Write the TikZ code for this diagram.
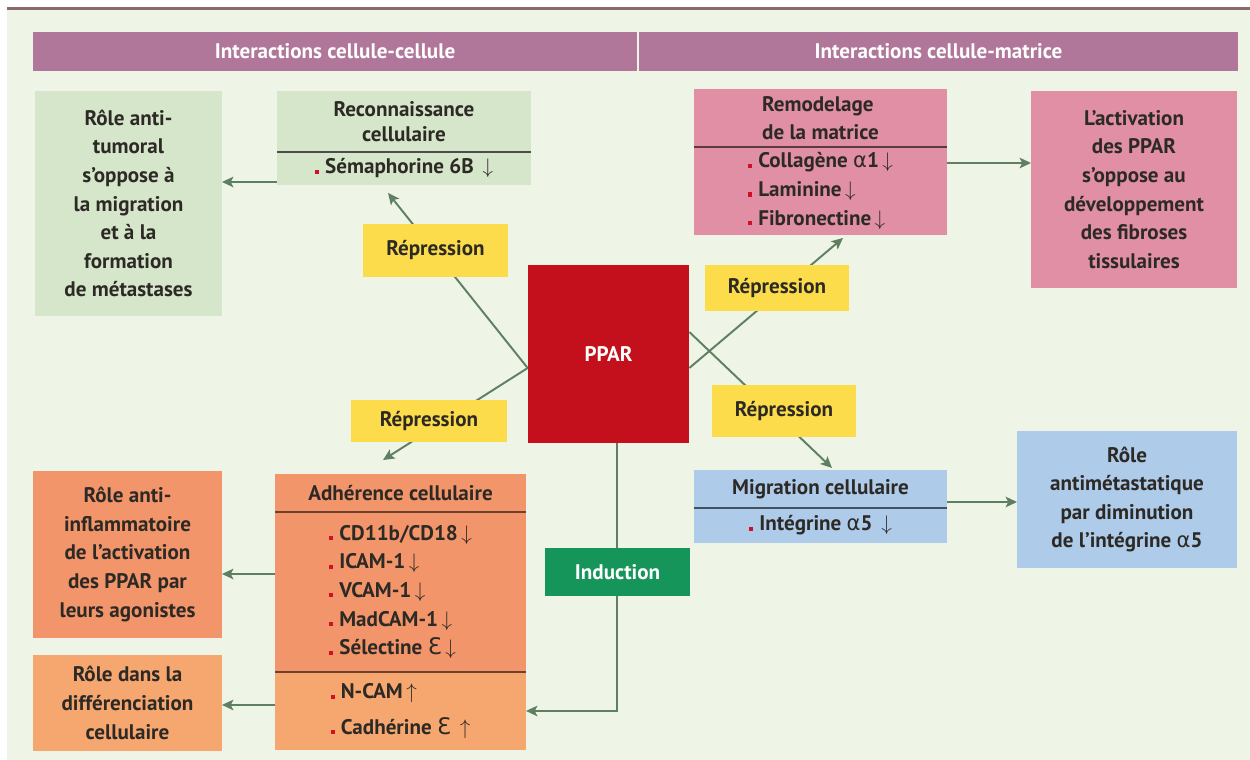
\documentclass[tikz,border=0pt]{standalone}
\usepackage{fontspec}
\setmainfont{PT Sans}
\newfontfamily\dejavu{DejaVu Sans}
\usepackage{xcolor}
\usetikzlibrary{arrows.meta, positioning, calc}
\definecolor{ppbg}{HTML}{EEF4E6}
\definecolor{pptop}{HTML}{8C6868}
\definecolor{pphdr}{HTML}{B0779A}
\definecolor{ppgreen}{HTML}{D6E6CB}
\definecolor{pppink}{HTML}{E18FA5}
\definecolor{ppblue}{HTML}{AECBEA}
\definecolor{pporange}{HTML}{F3956A}
\definecolor{pplightor}{HTML}{F6A66F}
\definecolor{ppred}{HTML}{C3101C}
\definecolor{ppyellow}{HTML}{FCDC4A}
\definecolor{ppind}{HTML}{16955A}
\definecolor{pparrow}{HTML}{5F7F62}
\definecolor{pptxt}{HTML}{2D2A26}
\definecolor{pucered}{HTML}{D0102A}
\newcommand{\bodyfont}{\fontsize{12}{16.3}\selectfont\bfseries}
\newcommand{\puce}{\textcolor{pucered}{\rule{2.4pt}{2.4pt}}\hspace{3.5pt}}
\newcommand{\flbas}{\,$\downarrow$}
\newcommand{\flhaut}{\,$\uparrow$}
\newcommand{\galpha}{{\dejavu\mdseries α}}
\newcommand{\epsE}{{\dejavu\mdseries\fontsize{13}{14}\selectfont Ɛ}}

\begin{document}
\begin{tikzpicture}[
  x=0.02cm, y=-0.02cm,
  box/.style={rectangle, fill=#1, inner sep=2pt, outer sep=0pt, align=center,
    font=\bodyfont, text=pptxt},
  hdr/.style={rectangle, fill=pphdr, minimum height=0.78cm, outer sep=0pt,
    font=\fontsize{12}{14}\selectfont\bfseries, text=white},
  repr/.style={rectangle, fill=ppyellow, minimum width=2.9cm, font=\bodyfont, text=pptxt},
  sep/.style={line width=1.2pt, draw=#1},
  arr/.style={-{Stealth[length=6.5pt, width=6pt, inset=1.5pt]}, line width=1.1pt, draw=pparrow},
]
  \useasboundingbox (0,0) rectangle (1250,760);
  \fill[white] (0,0) rectangle (1250,760);
  \fill[ppbg] (7,9.5) rectangle (1250,760);
  \draw[line width=1.2pt, pptop] (7,8.5) -- (1250,8.5);

  % Bandeaux
  \node[hdr, minimum width=12.08cm] (hdrcc) at (335,51.5) {Interactions cellule-cellule};
  \node[hdr, minimum width=11.98cm] (hdrcm) at (938.5,51.5) {Interactions cellule-matrice};

  % Interactions cellule-cellule
  \node[box=ppgreen, minimum width=3.74cm, minimum height=4.5cm] (antitum) at (128.5,203.5)
    {Rôle anti-\\tumoral\\s’oppose à\\la migration\\et à la\\formation\\de métastases};
  \node[box=ppgreen, minimum width=5.08cm, minimum height=1.22cm,
    font=\fontsize{12}{14}\selectfont\bfseries] (rechead) at (404,121.5) {Reconnaissance\\cellulaire};
  \node[box=ppgreen, anchor=north, minimum width=5.08cm, minimum height=0.66cm] (recbody)
    at (rechead.south) {\puce Sémaphorine 6B \flbas};
  \draw[sep=black!70] (rechead.south west) -- (rechead.south east);

  \node[box=pporange, minimum width=5.02cm, minimum height=0.76cm] (adhhead) at (400.5,493) {Adhérence cellulaire};
  \node[box=pporange, anchor=north, minimum width=5.02cm, minimum height=3.2cm, align=left] (adhdown)
    at (adhhead.south) {\puce CD11b/CD18\flbas\\\puce ICAM-1\flbas\\\puce VCAM-1\flbas\\\puce MadCAM-1\flbas\\\puce Sélectine \epsE\flbas};
  \node[box=pplightor, anchor=north, minimum width=5.02cm, minimum height=1.56cm, align=left,
    font=\fontsize{12}{20}\selectfont\bfseries] (adhup)
    at (adhdown.south) {\puce N-CAM\flhaut\\\puce Cadhérine \epsE\ \flhaut};
  \draw[sep=pporange!45!black] (adhhead.south west) -- (adhhead.south east);
  \draw[sep=pporange!45!black] (adhdown.south west) -- (adhdown.south east);

  \node[box=pporange, minimum width=3.78cm, minimum height=3.34cm] (antiinf) at (127.5,554.5)
    {Rôle anti-\\inflammatoire\\de l’activation\\des PPAR par\\leurs agonistes};
  \node[box=pplightor, minimum width=3.78cm, minimum height=1.92cm] (differ) at (127.5,703)
    {Rôle dans la\\différenciation\\cellulaire};

  % Interactions cellule-matrice
  \node[box=pppink, minimum width=5.06cm, minimum height=1.16cm, align=left] (remhead) at (820.5,118)
    {Remodelage\\de la matrice};
  \node[box=pppink, anchor=north, minimum width=5.06cm, minimum height=1.76cm, align=left] (rembody)
    at (remhead.south) {\puce Collagène \galpha1\flbas\\\puce Laminine\flbas\\\puce Fibronectine\flbas};
  \draw[sep=pppink!40!black] (remhead.south west) -- (remhead.south east);
  \node[box=pppink, minimum width=4.12cm, minimum height=3.94cm] (fibrose) at (1134,189.5)
    {L’activation\\des PPAR\\s’oppose au\\développement\\des fibroses\\tissulaires};

  \node[box=ppblue, minimum width=5.06cm, minimum height=0.76cm] (mighead) at (820.5,489) {Migration cellulaire};
  \node[box=ppblue, anchor=north, minimum width=5.06cm, minimum height=0.7cm] (migbody)
    at (mighead.south) {\puce Intégrine \galpha5 \flbas};
  \draw[sep=ppblue!40!black] (mighead.south west) -- (mighead.south east);
  \node[box=ppblue, minimum width=4.4cm, minimum height=2.74cm] (antimet) at (1127,499.5)
    {Rôle\\antimétastatique\\par diminution\\de l’intégrine \galpha5};

  % PPAR
  \node[fill=ppred, minimum width=3.22cm, minimum height=3.56cm, text=white, font=\bodyfont] (ppar)
    at (608.5,354) {PPAR};

  % Liens
  \coordinate (pwest) at ([yshift=-0.28cm]ppar.west);
  \coordinate (recin) at ([xshift=-0.32cm, yshift=-0.16cm]recbody.south);
  \coordinate (adhin) at ([xshift=-0.35cm, yshift=0.28cm]adhhead.north);
  \coordinate (remin) at ([xshift=0.45cm, yshift=-0.06cm]rembody.south);
  \coordinate (migin) at ([xshift=0.23cm, yshift=0.04cm]mighead.north);
  \draw[arr] (pwest) -- (recin);
  \draw[arr] (pwest) -- (adhin);
  \draw[arr] ([yshift=-0.28cm]ppar.east) -- (remin);
  \draw[arr] ([yshift=0.44cm]ppar.east) -- (migin);
  \draw[arr] ([xshift=0.17cm]ppar.south) |- (adhup.east);

  \draw[arr] ([yshift=0.06cm]recbody.south west) -- ([yshift=0.06cm]recbody.south west -| antitum.east);
  \draw[arr] ([yshift=-0.32cm]rembody.north east) -- ([yshift=-0.32cm]rembody.north east -| fibrose.west);
  \draw[arr] ([yshift=0.12cm]mighead.south east) -- ([yshift=0.12cm]mighead.south east -| antimet.west);
  \draw[arr] ([yshift=0.36cm]adhdown.west) -- ([yshift=0.36cm]adhdown.west -| antiinf.east);
  \draw[arr] ([yshift=0.12cm]adhup.west) -- ([yshift=0.12cm]adhup.west -| differ.east);

  % Etiquettes
  \node[repr, minimum height=1.08cm] (rep1) at (435.5,250.5) {Répression};
  \node[repr, minimum height=0.92cm] (rep2) at (777,288) {Répression};
  \node[repr, minimum width=3.14cm, minimum height=0.86cm] (rep3) at (429,421) {Répression};
  \node[repr, minimum height=1.06cm] (rep4) at (784,411) {Répression};
  \node[rectangle, fill=ppind, minimum width=2.9cm, minimum height=0.96cm, text=white, font=\bodyfont]
    (induc) at (617.5,572) {Induction};
\end{tikzpicture}
\end{document}
